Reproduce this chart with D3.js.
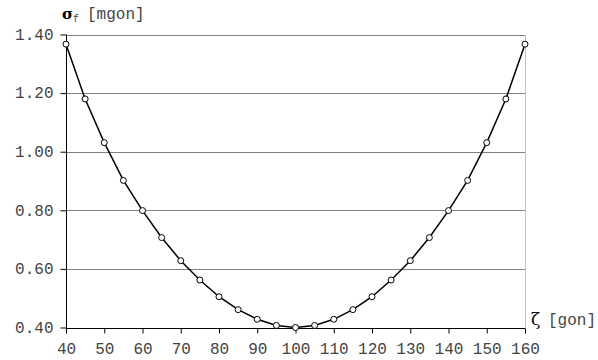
<!DOCTYPE html>
<html><head><meta charset="utf-8">
<script src="https://cdn.jsdelivr.net/npm/d3@7"></script>
<style>body{margin:0;background:#fff;} svg{display:block;}</style>
</head><body>
<svg id="c" width="598" height="360"></svg>
<script>
const zetaGon = [40,45,50,55,60,65,70,75,80,85,90,95,100,105,110,115,120,125,130,135,140,145,150,155,160];
const sigmaF = [1.367,1.180,1.031,0.902,0.799,0.707,0.628,0.562,0.505,0.461,0.428,0.407,0.400,0.407,0.428,0.461,0.505,0.562,0.628,0.707,0.799,0.902,1.031,1.180,1.367];
const xTicks = [40,50,60,70,80,90,100,110,120,130,140,150,160];
const yTicks = [0.40,0.60,0.80,1.00,1.20,1.40];

const svg = d3.select("#c");
const x = d3.scaleLinear().domain([40,160]).range([66,525]);
const y = d3.scaleLinear().domain([0.40,1.40]).range([327.5,34.5]);
const font = "'Liberation Mono','Courier New',monospace";
const textCol = "#444";

// gridlines
svg.append("g").selectAll("line").data(yTicks.filter(d=>d>0.401)).join("line")
  .attr("x1", x(40)).attr("x2", x(160))
  .attr("y1", d=>Math.round(y(d))+0.5).attr("y2", d=>Math.round(y(d))+0.5)
  .attr("stroke", "#808080").attr("stroke-width", 1);

// right border
svg.append("line").attr("x1", x(160)+0.5).attr("x2", x(160)+0.5)
  .attr("y1", Math.round(y(1.40))).attr("y2", Math.round(y(0.40))+6)
  .attr("stroke", "#c0c0c0");

// y axis
const yAxis = d3.axisLeft(y).tickValues(yTicks).tickFormat(d3.format(".2f")).tickSize(6).tickPadding(7);
const gy = svg.append("g").attr("transform", `translate(${x(40)+0.5},0)`).call(yAxis);
gy.select(".domain").attr("stroke","#000").attr("d", `M0,${y(1.40)}V${y(0.40)+6}`);
gy.selectAll(".tick line").attr("stroke","#000");
gy.selectAll(".tick text").attr("font-family", font).attr("font-size", 16).attr("fill",textCol).attr("dy","0.3em");

// x axis
const xAxis = d3.axisBottom(x).tickValues(xTicks).tickSize(5).tickPadding(9);
const gx = svg.append("g").attr("transform", `translate(0,${Math.round(y(0.40))+0.5})`).call(xAxis);
gx.select(".domain").attr("stroke","#000").attr("d", `M${x(40)},0H${x(160)}`);
gx.selectAll(".tick line").attr("stroke","#000");
gx.selectAll(".tick text").attr("font-family", font).attr("font-size", 16).attr("fill",textCol);

// line
const line = d3.line().x((d,i)=>x(zetaGon[i])).y(d=>y(d));
svg.append("path").datum(sigmaF).attr("d", line)
  .attr("fill","none").attr("stroke","#000").attr("stroke-width",1.5);

svg.append("g").selectAll("circle").data(sigmaF).join("circle")
  .attr("cx",(d,i)=>x(zetaGon[i])).attr("cy", d=>y(d)).attr("r",3)
  .attr("fill","#fff").attr("stroke","#000").attr("stroke-width",1);

// y title
const yt = svg.append("text").attr("x", 62).attr("y", 19).attr("font-family", font).attr("font-size",16).attr("fill",textCol);
yt.append("tspan").text("σ").attr("font-family","'DejaVu Serif',serif").attr("font-weight","bold").attr("font-size",15).attr("fill","#000");
yt.append("tspan").text("f").attr("font-size",10).attr("dy",3);
yt.append("tspan").text("[mgon]").attr("x",87).attr("dy",-3);

// x title
const xt = svg.append("text").attr("x", 531).attr("y", 325).attr("font-family", font).attr("font-size",16).attr("fill",textCol);
xt.append("tspan").text("ζ").attr("font-family","'DejaVu Serif',serif").attr("font-size",17).attr("fill","#000");
xt.append("tspan").text("[gon]").attr("x",548);
</script>
</body></html>
